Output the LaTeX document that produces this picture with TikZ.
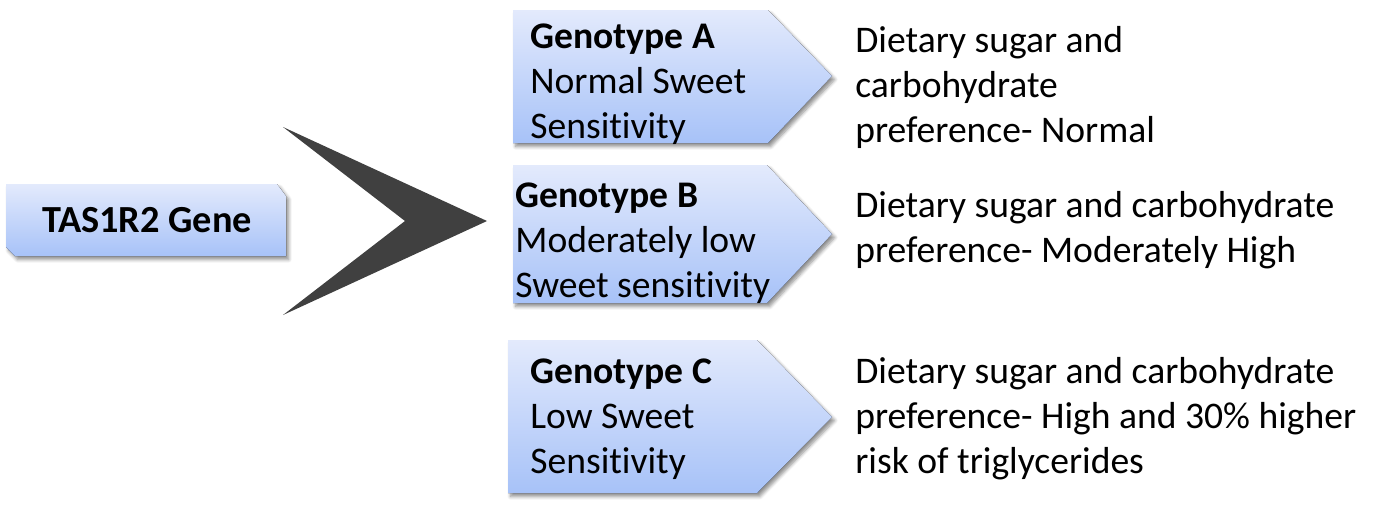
\documentclass[tikz,border=0pt]{standalone}
\usepackage{fontspec}
\setmainfont[Ligatures=NoCommon]{Carlito}
\usetikzlibrary{shadows.blur}
\definecolor{boxtop}{HTML}{E3EAFC}
\definecolor{boxbot}{HTML}{A7C2F8}
\definecolor{chevgray}{HTML}{404040}
\tikzset{
  genobox/.style={top color=boxtop, bottom color=boxbot,
    blur shadow={shadow xshift=1.5pt, shadow yshift=-2pt, shadow blur steps=6, shadow opacity=45}},
  txt/.style={anchor=base west, align=left, inner sep=0pt, font=\fontsize{21.4}{25.6}\selectfont}
}
\begin{document}
\begin{tikzpicture}[x=0.02cm, y=-0.02cm]
    % 1. Vùng hiển thị
    \useasboundingbox (0,0) rectangle (1400,508);

    % 2. Hộp gen bên trái
    \fill[genobox] (6,184) -- (277,184) -- (286,196) -- (286,256) -- (15,256) -- (6,247) -- cycle;
    \node[txt, anchor=base, font=\fontsize{21.8}{25.6}\selectfont\bfseries] (gene) at (147,232) {TAS1R2 Gene};

    % 3. Mũi tên chữ V màu xám đậm
    \fill[chevgray] (283,127) -- (487,221) -- (283,315) -- (405,221) -- cycle;

    % 4. Ba hộp kiểu gen
    \fill[genobox] (513,10) -- (768,10) -- (832,76) -- (768,143) -- (513,143) -- cycle;
    \fill[genobox] (513,165) -- (767,165) -- (832,234) -- (767,303) -- (513,303) -- cycle;
    \fill[genobox] (508,340) -- (757,340) -- (832,417) -- (757,493) -- (508,493) -- cycle;

    % 5. Chữ trong hộp (mốc ở dòng cuối)
    \node[txt] (genoA) at (530,138) {\textbf{Genotype A}\\Normal Sweet\\Sensitivity};
    \node[txt] (genoB) at (515,297) {\textbf{Genotype B}\\Moderately low\\Sweet sensitivity};
    \node[txt] (genoC) at (530,473) {\textbf{Genotype C}\\Low Sweet\\Sensitivity};

    % 6. Mô tả bên phải
    \node[txt] (prefA) at (855,142) {Dietary sugar and\\carbohydrate\\preference- Normal};
    \node[txt] (prefB) at (855,262) {Dietary sugar and carbohydrate\\preference- Moderately High};
    \node[txt] (prefC) at (855,473) {Dietary sugar and carbohydrate\\preference- High and 30\% higher\\risk of triglycerides};
\end{tikzpicture}
\end{document}
